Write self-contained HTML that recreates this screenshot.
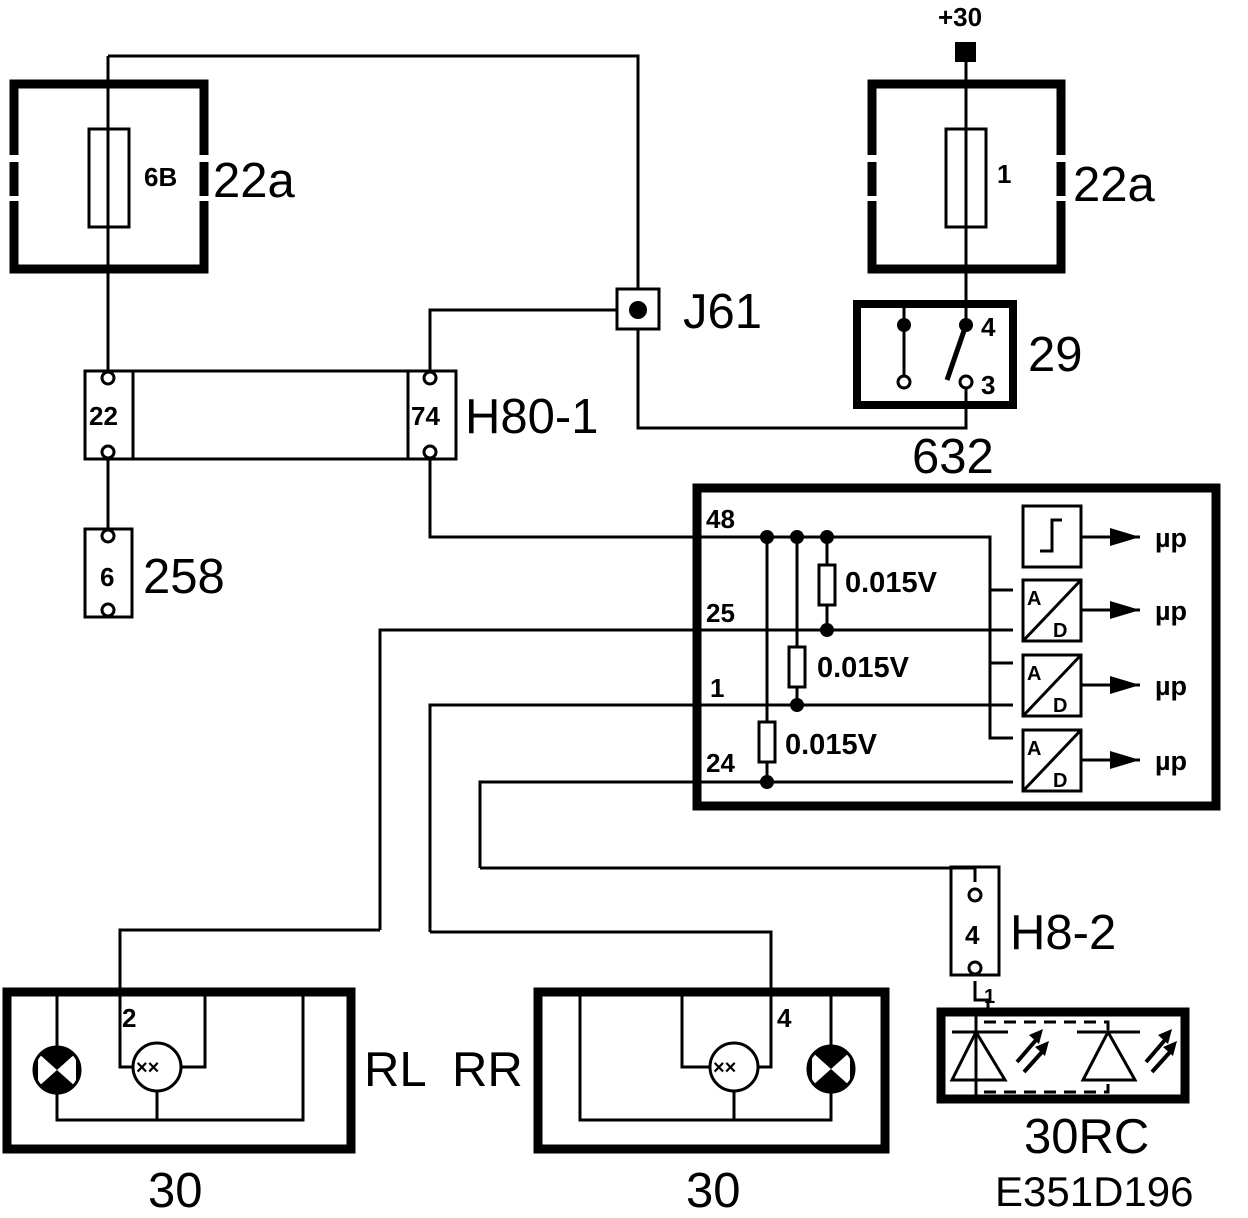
<!DOCTYPE html>
<html><head><meta charset="utf-8"><style>
html,body{margin:0;padding:0;background:#fff;}
svg{display:block;}
text{font-family:"Liberation Sans",Arial,sans-serif;fill:#000;}
</style></head><body>
<svg width="1248" height="1218" viewBox="0 0 1248 1218" xmlns="http://www.w3.org/2000/svg">
<g fill="none" stroke="#000" stroke-width="3">
<path d="M14 155 V84 H204 V155 M14 162 V196 M204 162 V196 M14 201 V269 H204 V201" stroke-width="9"/>
<rect x="89" y="129" width="40" height="98"/>
<path d="M108 56 H638 V290"/>
<path d="M108 56 V372"/>
<rect x="617" y="289" width="42" height="40"/>
<path d="M617 310 H430 V372"/>
<path d="M638 330 V428 H966 V387"/>
<path d="M872 155 V84 H1061 V155 M872 162 V196 M1061 162 V196 M872 201 V269 H1061 V201" stroke-width="9"/>
<rect x="946" y="129" width="40" height="98"/>
<path d="M966 60 V302"/>
<rect x="857" y="304" width="156" height="101" stroke-width="8"/>
<path d="M904 308 V377 M966 308 V325"/>
<path d="M966 325 L947 380" stroke-width="5"/>
<rect x="85" y="371" width="371" height="88"/>
<path d="M133 371 V459 M408 371 V459"/>
<path d="M108 459 V530"/>
<path d="M430 459 V537 H990 V738 H1013 M990 590 H1013 M990 663 H1013"/>
<rect x="85" y="529" width="47" height="88"/>
<rect x="697" y="488" width="519" height="318" stroke-width="9"/>
<path d="M380 930 V630 H1013"/>
<path d="M430 932 V705 H1013"/>
<path d="M480 868 V782 H1013"/>
<path d="M767 537 V722 M767 762 V782 M797 537 V647 M797 687 V705 M827 537 V565 M827 605 V630"/>
<rect x="819" y="565" width="16" height="40"/>
<rect x="789" y="647" width="16" height="40"/>
<rect x="759" y="722" width="16" height="40"/>
<rect x="1023" y="506" width="58" height="61"/>
<path d="M1040 551 H1052 V520 H1062"/>
<rect x="1023" y="580" width="58" height="61"/><path d="M1023 641 L1081 580"/>
<rect x="1023" y="655" width="58" height="61"/><path d="M1023 716 L1081 655"/>
<rect x="1023" y="730" width="58" height="61"/><path d="M1023 791 L1081 730"/>
<path d="M1081 537 H1140 M1081 610 H1140 M1081 685 H1140 M1081 760 H1140"/>
<path d="M480 868 H975 V882"/>
<rect x="951" y="867" width="48" height="108"/>
<path d="M975 981 V1000 H988 V1008"/>
<rect x="941" y="1012" width="244" height="87" stroke-width="9"/>
<path d="M976 1012 V1100"/>
<path d="M952 1032 H1008 M1077 1032 H1140"/>
<path d="M984 1022 H1108 V1032 M984 1092 H1108 V1080" stroke-dasharray="12,8"/>
<path d="M976 1032 L952 1080 H1005 Z M1108 1032 L1083 1080 H1135 Z"/>
<path d="M1017 1062 L1036 1040 M1024 1072 L1042 1052 M1146 1062 L1165 1040 M1152 1072 L1170 1052" stroke-width="4"/>
<rect x="7" y="992" width="344" height="157" stroke-width="9"/>
<path d="M57 992 V1046 M57 1094 V1120 H303 V992 M157 1091 V1120"/>
<path d="M380 930 H120 V1067 H133 M181 1067 H205 V992"/>
<circle cx="157" cy="1067" r="24"/>
<rect x="538" y="992" width="347" height="157" stroke-width="9"/>
<path d="M580 992 V1120 H831 V1093 M831 992 V1045 M734 1090 V1120"/>
<path d="M430 932 H771 V1067 H758 M710 1067 H682 V992"/>
<circle cx="734" cy="1067" r="24"/>
</g>
<path d="M1029 1035 L1043 1029 L1039 1044 Z M1035 1047 L1049 1041 L1045 1056 Z M1158 1035 L1172 1029 L1168 1044 Z M1163 1047 L1177 1041 L1173 1056 Z"/>
<rect x="955" y="42" width="21" height="20"/>
<circle cx="638" cy="310" r="9"/>
<circle cx="904" cy="325" r="7"/><circle cx="966" cy="325" r="7"/>
<g fill="#fff" stroke="#000" stroke-width="3">
<circle cx="904" cy="382" r="6"/><circle cx="966" cy="382" r="6"/>
<circle cx="108" cy="378" r="6"/><circle cx="108" cy="452" r="6"/>
<circle cx="430" cy="378" r="6"/><circle cx="430" cy="452" r="6"/>
<circle cx="108" cy="536" r="6"/><circle cx="108" cy="610" r="6"/>
<circle cx="975" cy="895" r="6"/><circle cx="975" cy="968" r="6"/>
</g>
<circle cx="767" cy="537" r="7"/><circle cx="797" cy="537" r="7"/><circle cx="827" cy="537" r="7"/>
<circle cx="827" cy="630" r="7"/><circle cx="797" cy="705" r="7"/><circle cx="767" cy="782" r="7"/>
<path d="M1110 528 L1140 537 L1110 546 Z M1110 601 L1140 610 L1110 619 Z M1110 676 L1140 685 L1110 694 Z M1110 751 L1140 760 L1110 769 Z"/>
<circle cx="57" cy="1070" r="22" fill="#000"/>
<path d="M38 1053 L57 1070 L38 1087 Z M76 1053 L57 1070 L76 1087 Z" fill="#fff"/>
<circle cx="57" cy="1070" r="23" fill="none" stroke="#000" stroke-width="3"/>
<circle cx="831" cy="1069" r="22" fill="#000"/>
<path d="M812 1052 L831 1069 L812 1086 Z M850 1052 L831 1069 L850 1086 Z" fill="#fff"/>
<circle cx="831" cy="1069" r="23" fill="none" stroke="#000" stroke-width="3"/>
<g font-weight="bold" font-size="20">
<text x="136" y="1074">××</text><text x="713" y="1074">××</text>
</g>
<g font-size="49">
<text x="213" y="197">22a</text>
<text x="1073" y="201">22a</text>
<text x="683" y="328">J61</text>
<text x="1028" y="371">29</text>
<text x="465" y="433">H80-1</text>
<text x="912" y="473">632</text>
<text x="143" y="593">258</text>
<text x="1010" y="949">H8-2</text>
<text x="364" y="1086">RL</text>
<text x="452" y="1086">RR</text>
<text x="148" y="1207">30</text>
<text x="686" y="1207">30</text>
<text x="1024" y="1153">30RC</text>
</g>
<text x="995" y="1206" font-size="42">E351D196</text>
<g font-size="26" font-weight="bold">
<text x="938" y="26">+30</text>
<text x="144" y="186">6B</text>
<text x="997" y="183">1</text>
<text x="981" y="336">4</text>
<text x="981" y="394">3</text>
<text x="89" y="425">22</text>
<text x="411" y="425">74</text>
<text x="100" y="586">6</text>
<text x="965" y="944">4</text>
<text x="984" y="1003" font-size="20">1</text>
<text x="122" y="1027">2</text>
<text x="777" y="1027">4</text>
<text x="706" y="528">48</text>
<text x="706" y="622">25</text>
<text x="710" y="697">1</text>
<text x="706" y="772">24</text>
<text x="845" y="592" font-size="29">0.015V</text>
<text x="817" y="677" font-size="29">0.015V</text>
<text x="785" y="754" font-size="29">0.015V</text>
<text x="1155" y="547" font-size="27">µp</text><text x="1155" y="620" font-size="27">µp</text>
<text x="1155" y="695" font-size="27">µp</text><text x="1155" y="770" font-size="27">µp</text>
<text x="1027" y="605" font-size="20">A</text>
<text x="1053" y="637" font-size="20">D</text>
<text x="1027" y="680" font-size="20">A</text>
<text x="1053" y="712" font-size="20">D</text>
<text x="1027" y="755" font-size="20">A</text>
<text x="1053" y="787" font-size="20">D</text>
</g>
</svg>
</body></html>
